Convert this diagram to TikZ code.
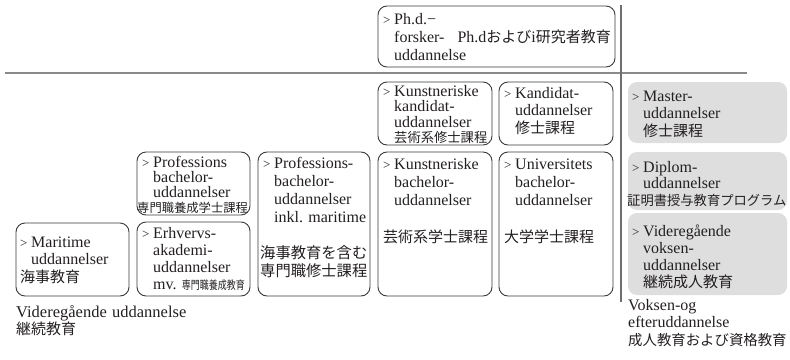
\documentclass[tikz,border=0pt]{standalone}
\usepackage{fontspec}
\setmainfont{Liberation Serif}
\newfontfamily\jpf{Noto Sans CJK JP}
\usepackage{graphicx}
\usetikzlibrary{fit}
\definecolor{boxc}{HTML}{3C3A3B}
\definecolor{grayc}{HTML}{DEDEDE}
\definecolor{txtc}{HTML}{231F20}
\definecolor{linec}{HTML}{8A8A8A}
\definecolor{vlinec}{HTML}{6E6E6E}
\frenchspacing
\newcommand\J[2]{{\jpf\fontsize{#1}{#1}\selectfont #2}}
\newcommand\ind{\hspace*{11pt}}
\newcommand\gt{\makebox[11pt][l]{\fontsize{13}{13}\selectfont>}}
\newcommand\tb[5]{\node[txt, font={\fontsize{16}{#4}\selectfont\lineskiplimit=-20pt\frenchspacing}] (#1) at (#2,#3) {#5};}
\tikzset{
  frame/.style={draw=boxc, line width=0.9pt, rounded corners=9pt, inner sep=0pt},
  gframe/.style={fill=grayc, rounded corners=9pt, inner sep=0pt},
  txt/.style={anchor=base west, inner sep=0pt, text width=230pt, align=left, text=txtc},
  hline/.style={draw=linec, line width=1.6pt},
  vline/.style={draw=vlinec, line width=1.1pt},
}
\begin{document}
\begin{tikzpicture}[x=1pt,y=-1pt]
\useasboundingbox (0,0) rectangle (790,359);
% separator lines
\coordinate (h1) at (5,73);
\coordinate (h2) at (747,73);
\coordinate (v1) at (621,5);
\coordinate (v2) at (621,302);
\draw[hline] (h1) -- (h2);
\draw[vline] (v1) -- (v2);
% boxes
\node[frame, fit={(378,6) (615,67)}] (phd) {};
\node[frame, fit={(378,82) (492,145)}] (kk) {};
\node[frame, fit={(499,82) (613,145)}] (kd) {};
\node[gframe, fit={(628,82) (787,143)}] (ms) {};
\node[frame, fit={(137,152) (250,215)}] (pb) {};
\node[frame, fit={(137,222) (250,296)}] (ea) {};
\node[frame, fit={(258,152) (370,296)}] (pi) {};
\node[frame, fit={(378,152) (492,296)}] (kb) {};
\node[frame, fit={(499,152) (613,296)}] (ub) {};
\node[gframe, fit={(628,152) (787,210)}] (dp) {};
\node[gframe, fit={(628,213) (787,295)}] (vg) {};
\node[frame, fit={(16,223) (129,296)}] (mt) {};
% texts
\tb{phdT}{383}{24}{18}{\gt Ph.d.−\\ \ind forsker-\hspace{13pt}Ph.d\J{15}{および}i\J{15}{研究者教育}\\ \ind uddannelse}
\tb{kkT}{383}{96}{15.5}{\gt Kunstneriske\\ \ind kandidat-\\ \ind uddannelser\\ \ind\J{13.3}{芸術系修士課程}}
\tb{kdT}{504}{98}{17.5}{\gt Kandidat-\\ \ind uddannelser\\ \ind\J{15}{修士課程}}
\tb{msT}{632}{101}{17.5}{\gt Master-\\ \ind uddannelser\\ \ind\J{15}{修士課程}}
\tb{pbT}{142}{167}{15.3}{\gt Professions\\ \ind bachelor-\\ \ind uddannelser\\ \hspace*{-5pt}\J{12.3}{専門職養成学士課程}}
\tb{eaT}{142}{238}{17}{\gt Erhvervs-\\ \ind akademi-\\ \ind uddannelser\\ \ind mv. \scalebox{0.78}[1]{\J{11.5}{専門職養成教育}}}
\tb{piT}{263}{168}{18}{\gt Professions-\\ \ind bachelor-\\ \ind uddannelser\\ \ind inkl. maritime\\[18pt] \hspace*{-3pt}\J{15.3}{海事教育を含む}\\ \hspace*{-3pt}\J{15.3}{専門職修士課程}}
\tb{kbT}{383}{169}{18}{\gt Kunstneriske\\ \ind bachelor-\\ \ind uddannelser\\[19pt] \J{15}{芸術系学士課程}}
\tb{ubT}{504}{169}{18}{\gt Universitets\\ \ind bachelor-\\ \ind uddannelser\\[19pt] \J{15}{大学学士課程}}
\tb{mtT}{20}{247}{17.5}{\gt Maritime\\ \ind uddannelser\\ \J{15}{海事教育}}
\tb{dpT}{632}{172}{16.5}{\gt Diplom-\\ \ind uddannelser\\ \hspace*{-5pt}\J{13.3}{証明書授与教育プログラム}}
\tb{vgT}{632}{236}{17}{\gt Videregående\\ \ind voksen-\\ \ind uddannelser\\ \ind\J{15}{継続成人教育}}
\tb{blT}{16}{317}{17.5}{{\fontsize{16.5}{17.5}\selectfont Videregående uddannelse}\\ \J{15}{継続教育}}
\tb{brT}{628}{310}{17.5}{Voksen-og\\ efteruddannelse\\ \J{14.4}{成人教育および資格教育}}
\end{tikzpicture}
\end{document}
